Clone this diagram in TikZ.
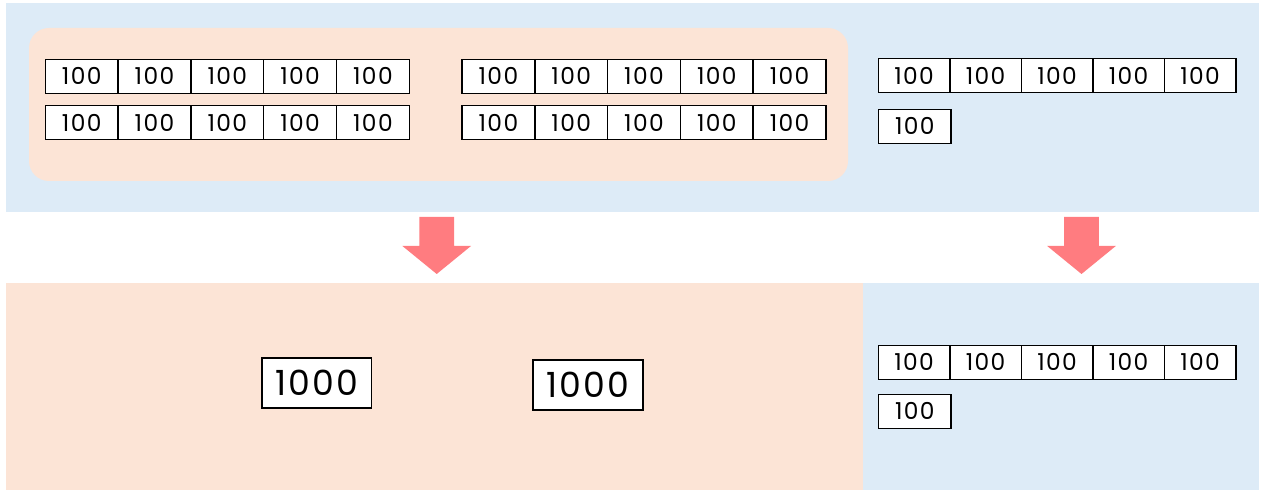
\documentclass[tikz,border=0pt]{standalone}
\usepackage{fontspec}
\setmainfont{Poppins}[LetterSpace=6]
\definecolor{paleblue}{HTML}{DDEBF7}
\definecolor{paleorange}{HTML}{FCE4D6}
\definecolor{arrowpink}{HTML}{FF7C80}
\newcommand\droparrow[1]{\fill[arrowpink] ({#1-17.4},217)--({#1+17.4},217)--({#1+17.4},246)--({#1+34.3},246)--(#1,274)--({#1-34.3},246)--({#1-17.4},246)--cycle;}
\begin{document}
\begin{tikzpicture}[x=0.75pt,y=-0.75pt,
    coin/.style={draw,line width=1.1pt,fill=white,inner sep=0pt,minimum height=25.5pt,
      font=\fontsize{17.5}{17.5}\selectfont},
    bill/.style={draw,line width=1.3pt,fill=white,inner sep=0pt,minimum width=82pt,
      minimum height=37.5pt,font=\fontsize{26}{26}\selectfont}]
    \useasboundingbox (0,0) rectangle (1261,491);
    % panels
    \fill[paleblue] (6,3) rectangle (1259,212);
    \fill[paleorange,rounded corners=15pt] (29,28) rectangle (848,181);
    \fill[paleorange] (6,283) rectangle (863,490);
    \fill[paleblue] (863,283) rectangle (1259,490);
    % the two groups of ten
    \foreach \r/\y in {1/76.3,2/122.7}{
        \foreach \i in {1,...,5}{
            \node[coin,minimum width=54.6pt] (a\r\i) at ({45.3+72.8*(\i-0.5)},\y) {100};
            \node[coin,minimum width=54.6pt] (b\r\i) at ({462+72.8*(\i-0.5)},\y) {100};
        }
    }
    % the six left over, top and bottom
    \foreach \i in {1,...,5}{
        \node[coin,minimum width=53.6pt] (t\i) at ({878.3+71.5*(\i-0.5)},75.7) {100};
        \node[coin,minimum width=53.6pt] (u\i) at ({878.3+71.5*(\i-0.5)},362.3) {100};
    }
    \node[coin,minimum width=54.6pt] (t6) at (914.8,126.3) {100};
    \node[coin,minimum width=54.6pt] (u6) at (914.8,411.3) {100};
    % arrows
    \droparrow{436.7}
    \droparrow{1081.5}
    % thousands
    \node[bill] (k1) at (316.8,382.7) {1000};
    \node[bill] (k2) at (588,385) {1000};
\end{tikzpicture}
\end{document}
